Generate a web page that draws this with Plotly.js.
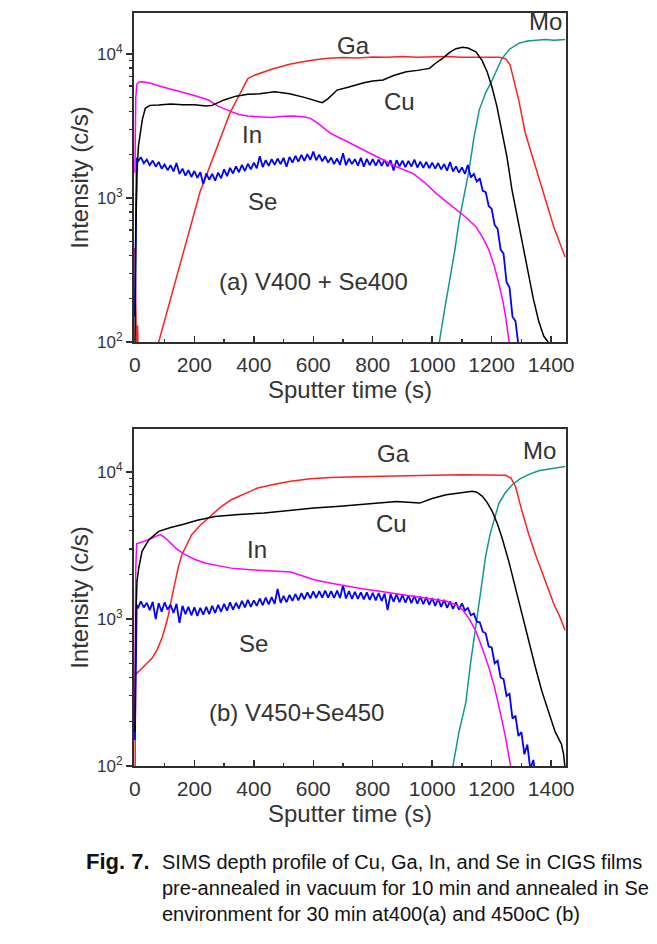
<!DOCTYPE html>
<html><head><meta charset="utf-8">
<script src="https://cdn.plot.ly/plotly-3.0.1.min.js"></script>
<style>html,body{margin:0;padding:0;background:#fff}#chart{width:657px;height:944px}</style>
</head><body><div id="chart"></div><script>
// ---------- Panel (a) V400 + Se400 ----------
const tA_Ga = [0,3,6,9,12,60,80,100,120,140,160,180,200,220,240,260,280,300,320,340,360,380,400,430,460,490,520,560,600,650,700,750,800,850,900,950,1000,1050,1100,1150,1200,1225,1247,1262,1275,1291,1313,1347,1380,1410,1447];
const A_Ga = [450,200,80,130,60,50,100,141,200,282,400,565,800,1120,1430,1830,2340,3000,3900,4700,5600,6750,7100,7500,7850,8150,8500,8800,9100,9330,9450,9400,9550,9500,9600,9500,9550,9600,9500,9550,9500,9500,9300,8400,6500,4790,2830,1650,970,620,390];
const tA_Cu = [0,3,7,12,18,25,35,50,80,120,160,200,240,260,300,340,380,420,470,520,570,610,630,650,680,720,770,800,835,870,913,950,991,1010,1035,1060,1080,1102,1120,1147,1168,1185,1201,1218,1235,1252,1268,1285,1302,1320,1340,1358,1375,1390,1400];
const A_Cu = [80,600,1500,2300,2800,3500,4200,4400,4430,4500,4450,4450,4350,4400,4800,5100,5250,5300,5470,5300,5000,4700,4590,4900,5620,5900,6320,6500,6600,7100,7540,7700,7950,8600,9330,10300,10900,11130,11000,10370,9000,7500,5900,4300,2900,1900,1150,750,500,330,200,140,110,100,85];
const tA_In = [0,3,7,15,25,50,91,130,158,200,247,280,324,350,380,420,458,500,535,570,591,620,658,700,747,790,835,880,935,975,1013,1045,1080,1115,1147,1170,1191,1210,1224,1237,1247,1258,1265];
const A_In = [1500,5000,6200,6400,6430,6300,5930,5650,5470,5150,4790,4350,3980,3800,3710,3650,3630,3700,3710,3650,3575,3250,2815,2550,2270,2050,1835,1650,1485,1280,1078,950,826,730,632,530,435,330,255,195,150,100,80];
const tA_Se = [0,3,6,10,20,30,40,50,60,70,80,90,100,110,120,130,140,150,160,170,180,190,200,210,220,230,240,250,260,270,280,290,300,310,320,330,340,350,360,370,380,390,400,410,420,430,440,450,460,470,480,490,500,510,520,530,540,550,560,570,580,590,600,610,620,630,640,650,660,670,680,690,700,710,720,730,740,750,760,770,780,790,800,810,820,830,840,850,860,870,880,890,900,910,920,930,940,950,960,970,980,990,1000,1010,1020,1030,1040,1050,1060,1070,1080,1090,1100,1110,1120,1130,1140,1150,1160,1170,1180,1190,1200,1210,1220,1230,1240,1250,1260,1270,1280,1290,1300];
const A_Se = [150,1200,1900,1790,1920,1740,1850,1690,1820,1650,1780,1600,1710,1560,1690,1530,1750,1470,1600,1430,1560,1400,1540,1380,1510,1250,1480,1340,1470,1320,1500,1370,1580,1420,1620,1480,1660,1510,1700,1540,1730,1580,1760,1610,1950,1640,1830,1670,1860,1700,1880,1720,1900,1650,1930,1760,1960,1790,1990,1810,2020,1840,2100,1830,2000,1800,1950,1760,1910,1720,1880,1700,2050,1690,1880,1720,1860,1680,1900,1650,1870,1690,1860,1680,1850,1670,1840,1660,1830,1550,1830,1660,1820,1640,1810,1650,1850,1630,1790,1620,1780,1610,1760,1600,1750,1580,1720,1550,1780,1530,1660,1500,1630,1470,1700,1390,1470,1300,1370,1120,1100,880,840,650,610,440,410,260,240,150,140,95,90];
const tA_Mo = [1000,1024,1040,1058,1075,1091,1108,1124,1140,1158,1180,1202,1220,1235,1260,1291,1320,1347,1380,1410,1447];
const A_Mo = [60,100,160,257,420,705,1050,1560,2600,4080,5400,6600,8000,9330,10800,11860,12300,12500,12600,12450,12600];

// ---------- Panel (b) V450 + Se450 ----------
const tB_Ga = [0,2,13,35,58,75,91,102,113,124,135,146,158,175,191,220,247,285,324,370,413,470,524,590,658,750,880,1000,1102,1200,1247,1265,1280,1300,1324,1350,1380,1410,1430,1447];
const B_Ga = [30,420,440,490,543,620,743,880,1070,1400,1805,2250,2740,3250,3750,4350,4865,5700,6480,7150,7790,8250,8650,9000,9200,9300,9350,9500,9590,9550,9500,9100,8000,5600,3800,2650,1820,1250,1030,840];
const tB_Cu = [0,3,7,13,24,47,80,120,158,210,269,350,435,520,602,690,769,830,880,958,1000,1047,1100,1135,1150,1169,1185,1202,1220,1235,1258,1280,1302,1324,1347,1369,1391,1413,1435,1442,1447];
const B_Cu = [170,1000,1800,2220,2890,3465,3950,4200,4380,4700,4990,5150,5260,5480,5690,5850,6060,6200,6310,6150,6600,7010,7200,7390,7300,6840,6200,5400,4400,3560,2450,1625,1070,705,470,322,235,172,140,120,95];
const tB_In = [0,3,6,20,47,70,85,100,113,140,169,200,235,280,324,380,435,480,524,560,602,660,713,770,824,880,935,990,1047,1080,1102,1125,1147,1170,1191,1210,1224,1237,1247,1256,1263,1270];
const B_In = [200,2200,3250,3320,3465,3650,3750,3600,3375,3000,2740,2550,2405,2300,2220,2170,2130,2110,2090,1980,1850,1750,1670,1600,1543,1480,1427,1370,1320,1250,1157,1000,825,620,464,340,261,195,155,120,100,85];
const tB_Se = [0,3,6,10,20,30,40,50,60,70,80,90,100,110,120,130,140,150,160,170,180,190,200,210,220,230,240,250,260,270,280,290,300,310,320,330,340,350,360,370,380,390,400,410,420,430,440,450,460,470,480,490,500,510,520,530,540,550,560,570,580,590,600,610,620,630,640,650,660,670,680,690,700,710,720,730,740,750,760,770,780,790,800,810,820,830,840,850,860,870,880,890,900,910,920,930,940,950,960,970,980,990,1000,1010,1020,1030,1040,1050,1060,1070,1080,1090,1100,1110,1120,1130,1140,1150,1160,1170,1180,1190,1200,1210,1220,1230,1240,1250,1260,1270,1280,1290,1300,1310,1320,1330,1340,1350];
const B_Se = [150,900,1250,1180,1320,1200,1290,1150,1310,1000,1280,1120,1300,1160,1250,1100,1270,940,1230,1080,1210,1060,1200,1050,1190,1070,1210,1080,1230,1100,1250,1120,1270,1140,1300,1160,1290,1180,1330,1200,1350,1210,1340,1230,1380,1240,1400,1260,1410,1270,1600,1290,1440,1300,1460,1330,1480,1340,1500,1360,1520,1380,1540,1390,1550,1400,1560,1400,1550,1390,1560,1390,1700,1380,1550,1370,1530,1370,1520,1360,1520,1350,1510,1340,1500,1330,1490,1150,1480,1310,1470,1300,1460,1290,1450,1280,1440,1270,1420,1260,1410,1250,1390,1230,1370,1210,1350,1190,1320,1170,1300,1160,1280,1140,1190,1060,1090,960,950,820,800,650,640,500,520,400,390,300,310,210,220,160,170,120,140,95,110,80];
const tB_Mo = [1050,1069,1090,1113,1130,1147,1165,1180,1195,1210,1224,1245,1269,1295,1324,1358,1391,1420,1447];
const B_Mo = [60,100,170,270,520,900,1700,2700,3800,4900,6100,7200,8200,9000,9600,10200,10400,10700,10900];

// ---------- axis ticks ----------
const yTickVals = [100,1000,10000];
const yTickText = ['10<sup>2</sup>','10<sup>3</sup>','10<sup>4</sup>'];
const yMinorVals = [200,300,400,500,600,700,800,900,2000,3000,4000,5000,6000,7000,8000,9000];

// ---------- geometry helpers (pixels -> paper) ----------
const L=134, R=566, T=13, B=766;
function px(x){return (x-L)/(R-L);}
function py(y){return (B-y)/(B-T);}
const FONT='"Liberation Sans", Arial, Helvetica, sans-serif';
const INK='#333333';
const AX='#2e2e2e';
const COL={Cu:'#000000',Ga:'#ff2020',In:'#ff00ff',Se:'#0000ff',Mo:'#12968f'};

function tr(x,y,c,xa,ya,w){return {x:x,y:y,type:'scatter',mode:'lines',line:{color:c,width:w||1.5},xaxis:xa,yaxis:ya,showlegend:false,hoverinfo:'skip'};}

const data = [
  tr(tA_Mo,A_Mo,COL.Mo,'x','y'),
  tr(tA_Ga,A_Ga,COL.Ga,'x','y'),
  tr(tA_Se,A_Se,COL.Se,'x','y',1.8),
  tr(tA_In,A_In,COL.In,'x','y'),
  tr(tA_Cu,A_Cu,COL.Cu,'x','y'),
  tr(tB_Mo,B_Mo,COL.Mo,'x2','y2'),
  tr(tB_Ga,B_Ga,COL.Ga,'x2','y2'),
  tr(tB_Se,B_Se,COL.Se,'x2','y2',1.8),
  tr(tB_In,B_In,COL.In,'x2','y2'),
  tr(tB_Cu,B_Cu,COL.Cu,'x2','y2')
];

function xax(anchor){return {anchor:anchor, range:[-3,1450], tick0:0, dtick:200, ticks:'inside', ticklen:6, tickwidth:1.5, tickcolor:AX,
  minor:{dtick:100, tick0:0, ticks:'inside', ticklen:3, tickwidth:1.5, tickcolor:AX},
  showline:true, linecolor:AX, linewidth:2, mirror:true, showgrid:false, zeroline:false,
  tickfont:{family:FONT,size:21,color:INK}, ticklabelstandoff:3,
  title:{text:'Sputter time (s)', font:{family:FONT,size:24,color:INK}, standoff:5}};}
function yax(anchor,dom,rng){return {anchor:anchor, domain:dom, type:'log', range:rng, tickmode:'array', tickvals:yTickVals, ticktext:yTickText,
  ticks:'outside', ticklen:6, tickwidth:1.5, tickcolor:AX,
  minor:{tickmode:'array', tickvals:yMinorVals, ticks:'outside', ticklen:3, tickwidth:1.2, tickcolor:AX},
  showline:true, linecolor:AX, linewidth:2, mirror:true, showgrid:false, zeroline:false,
  tickfont:{family:FONT,size:17,color:INK},
  title:{text:'Intensity (c/s)', font:{family:FONT,size:24,color:INK}, standoff:2}};}

function lab(text,x,y,size){return {text:text, xref:'paper', yref:'paper', x:px(x), y:py(y), xanchor:'center', yanchor:'middle', showarrow:false, font:{family:FONT,size:size||24,color:INK}};}
function cap(text,x,y,size){return {text:text, xref:'paper', yref:'paper', x:px(x), y:py(y), xanchor:'left', yanchor:'middle', showarrow:false, font:{family:FONT,size:size||20,color:'#111111'}};}

const layout = {
  width:657, height:944, paper_bgcolor:'#ffffff', plot_bgcolor:'#ffffff',
  margin:{l:L, r:657-R, t:T, b:944-B, pad:0},
  font:{family:FONT,color:INK},
  showlegend:false,
  xaxis: xax('y'),
  yaxis: yax('x',[py(342),1],[2,4.285]),
  xaxis2: xax('y2'),
  yaxis2: yax('x2',[0,py(429)],[2,4.293]),
  annotations:[
    lab('Ga',353,46), lab('Cu',399,101), lab('In',252,135), lab('Se',262,201),
    lab('(a) V400 + Se400',313,281), lab('Mo',545,22),
    lab('Ga',393,454), lab('Mo',539,451), lab('Cu',391,523), lab('In',257,549),
    lab('Se',253,643), lab('(b) V450+Se450',296,712),
    cap('<b>Fig. 7.</b>',84,862,22),
    cap('SIMS depth profile of Cu, Ga, In, and Se in CIGS films',160,862),
    cap('pre-annealed in vacuum for 10 min and annealed in Se',160,888),
    cap('environment for 30 min at400(a) and 450oC (b)',160,914)
  ]
};
Plotly.newPlot('chart', data, layout, {staticPlot:true, displayModeBar:false});
</script></body></html>
